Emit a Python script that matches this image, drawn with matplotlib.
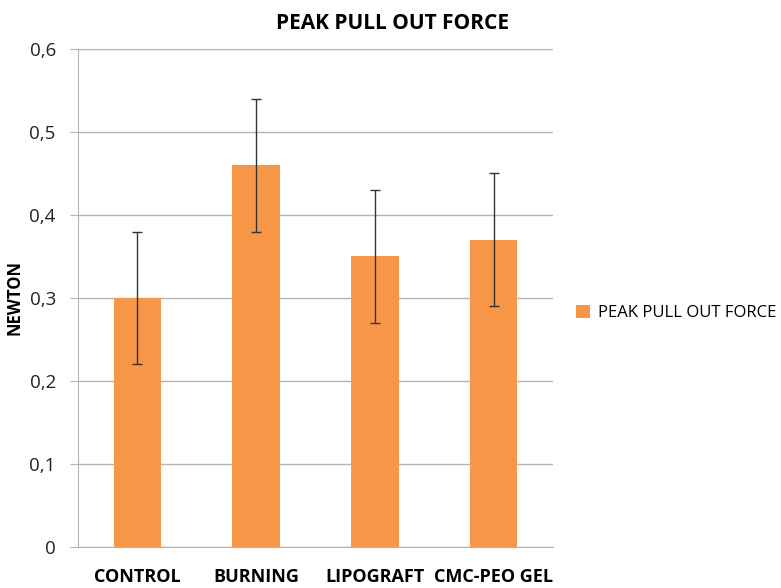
import matplotlib.pyplot as plt
from matplotlib.ticker import FuncFormatter

categories = ['CONTROL', 'BURNING', 'LIPOGRAFT', 'CMC-PEO GEL']
force = [0.30, 0.46, 0.35, 0.37]
force_err = [0.08, 0.08, 0.08, 0.08]
y_ticks = [0, 0.1, 0.2, 0.3, 0.4, 0.5, 0.6]

bold_font = ['Liberation Sans Narrow', 'Open Sans', 'DejaVu Sans']
plt.rcParams['font.family'] = ['Open Sans', 'DejaVu Sans']


def comma_decimal(x, pos):
    if x == 0:
        return '0'
    return f'{x:.1f}'.replace('.', ',')


fig = plt.figure(figsize=(7.81, 5.88), dpi=100)
ax = fig.add_axes([0.0999, 0.0697, 0.608, 0.847])

x = list(range(len(categories)))
ax.bar(x, force, width=0.4, color='#f79646', label='PEAK PULL OUT FORCE', zorder=2)
ax.errorbar(x, force, yerr=force_err, fmt='none', ecolor='#333333',
            elinewidth=1, capsize=3.5, capthick=1, zorder=3)

ax.set_xlim(-0.5, len(categories) - 0.5)
ax.set_ylim(0, 0.6)
ax.set_yticks(y_ticks)
ax.yaxis.set_major_formatter(FuncFormatter(comma_decimal))
ax.grid(True, axis='y', color='#b3b3b3', linewidth=1, zorder=0)

ax.set_xticks(x)
ax.set_xticklabels(categories, fontweight='bold', fontsize=13, family=bold_font)
ax.tick_params(axis='x', length=0, pad=15)
ax.tick_params(axis='y', length=6, labelsize=13.5, pad=10, colors='#222222')
ax.tick_params(axis='y', color='#b3b3b3')

for side in ['top', 'right']:
    ax.spines[side].set_visible(False)
ax.spines['left'].set_color('#b3b3b3')
ax.spines['bottom'].set_color('#b3b3b3')

ax.set_ylabel('NEWTON', fontweight='bold', fontsize=12, family=bold_font, labelpad=4)

fig.suptitle('PEAK PULL OUT FORCE', x=0.503, y=0.978, fontweight='bold',
             fontsize=15, family=bold_font)

ax.legend(loc='center left', bbox_to_anchor=(1.018, 0.47), frameon=False,
          fontsize=12, handlelength=0.8, handleheight=0.8, handletextpad=0.5)

plt.savefig('out.png', dpi=100)
